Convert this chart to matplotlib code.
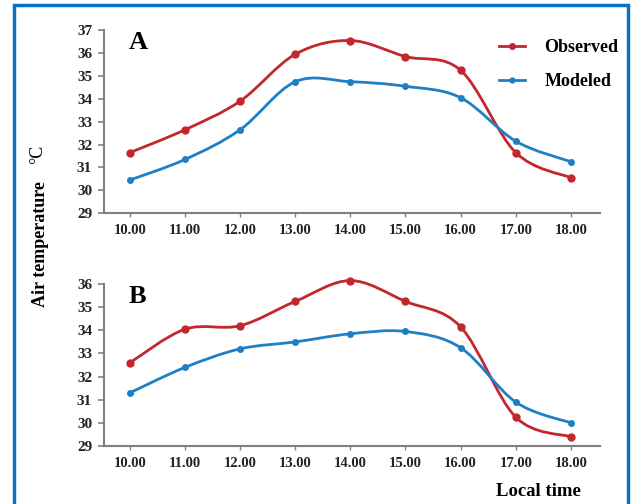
import numpy as np
import matplotlib.pyplot as plt
from matplotlib.path import Path
from matplotlib.patches import PathPatch, Rectangle
from matplotlib.lines import Line2D

plt.rcParams["font.family"] = ["Liberation Serif", "DejaVu Serif"]
plt.rcParams["font.weight"] = "bold"

hours = [10, 11, 12, 13, 14, 15, 16, 17, 18]
hour_labels = ["10.00", "11.00", "12.00", "13.00", "14.00", "15.00", "16.00", "17.00", "18.00"]

# Panel A
obs_a = [31.65, 32.65, 33.9, 35.95, 36.55, 35.85, 35.25, 31.65, 30.55]
mod_a = [30.45, 31.35, 32.65, 34.75, 34.75, 34.55, 34.05, 32.15, 31.25]

# Panel B
obs_b = [32.6, 34.05, 34.2, 35.25, 36.15, 35.25, 34.15, 30.25, 29.4]
mod_b = [31.3, 32.4, 33.2, 33.5, 33.85, 33.95, 33.25, 30.9, 30.0]

red = "#c1272d"
blue = "#1f7fc4"
axis_gray = "#7f7f7f"


def smooth_path(x, y):
    # Catmull-Rom segments turned into cubic Bezier pieces
    pts = np.column_stack([x, y]).astype(float)
    verts = [pts[0]]
    codes = [Path.MOVETO]
    n = len(pts)
    for i in range(n - 1):
        p0 = pts[max(i - 1, 0)]
        p1 = pts[i]
        p2 = pts[i + 1]
        p3 = pts[min(i + 2, n - 1)]
        c1 = p1 + (p2 - p0) / 6.0
        c2 = p2 - (p3 - p1) / 6.0
        verts += [c1, c2, p2]
        codes += [Path.CURVE4] * 3
    return Path(verts, codes)


def draw_panel(ax, obs, mod, ymax, letter):
    for vals, col, ms in [(obs, red, 5), (mod, blue, 4)]:
        ax.add_patch(PathPatch(smooth_path(hours, vals), facecolor="none",
                               edgecolor=col, lw=2.0, zorder=3, clip_on=False))
        ax.plot(hours, vals, ls="none", marker="o", ms=ms, color=col,
                zorder=4, clip_on=False)
    ax.set_xlim(9.53, 18.53)
    ax.set_ylim(29, ymax)
    ax.set_yticks(range(29, ymax + 1))
    ax.set_xticks(hours)
    ax.set_xticklabels(hour_labels)
    for s in ["top", "right"]:
        ax.spines[s].set_visible(False)
    for s in ["left", "bottom"]:
        ax.spines[s].set_color(axis_gray)
        ax.spines[s].set_linewidth(1.5)
    ax.tick_params(axis="y", direction="out", length=4.5, width=1.2,
                   color=axis_gray, labelsize=11, pad=4)
    ax.tick_params(axis="x", direction="out", length=3, width=1.0,
                   color=axis_gray, labelsize=10.5, pad=5)
    for lab in ax.get_xticklabels() + ax.get_yticklabels():
        lab.set_fontweight("bold")
        lab.set_color("#222222")
    ax.text(0.05, 0.995, letter, transform=ax.transAxes, fontsize=19,
            fontweight="bold", va="top", ha="left")


fig = plt.figure(figsize=(6.36, 5.04), dpi=100)

ax_a = fig.add_axes([0.1635, 0.577, 0.78, 0.363])
ax_b = fig.add_axes([0.1635, 0.115, 0.78, 0.3214])
draw_panel(ax_a, obs_a, mod_a, 37, "A")
draw_panel(ax_b, obs_b, mod_b, 36, "B")

handles = [
    Line2D([], [], color=red, lw=2.0, marker="o", ms=4),
    Line2D([], [], color=blue, lw=2.0, marker="o", ms=3.5),
]
ax_a.legend(handles, ["Observed", "Modeled"], loc="upper right",
            bbox_to_anchor=(1.07, 1.04), frameon=False, handlelength=1.4,
            handletextpad=1.1, labelspacing=0.95, prop={"size": 13, "weight": "bold"})

fig.text(0.064, 0.515, "Air temperature", rotation=90, fontsize=13,
         fontweight="bold", ha="center", va="center")
fig.text(0.059, 0.693, "°C", rotation=90, fontsize=13,
         ha="center", va="center", fontweight="normal")
fig.text(0.846, 0.024, "Local time", fontsize=13.5, fontweight="bold",
         ha="center", va="center")

# blue frame around the figure
fig.patches.append(Rectangle((0.0225, -0.05), 0.965, 1.04, transform=fig.transFigure,
                             fill=False, edgecolor="#0a70c2", lw=2.5, zorder=10))

fig.savefig("out.png", dpi=100)
